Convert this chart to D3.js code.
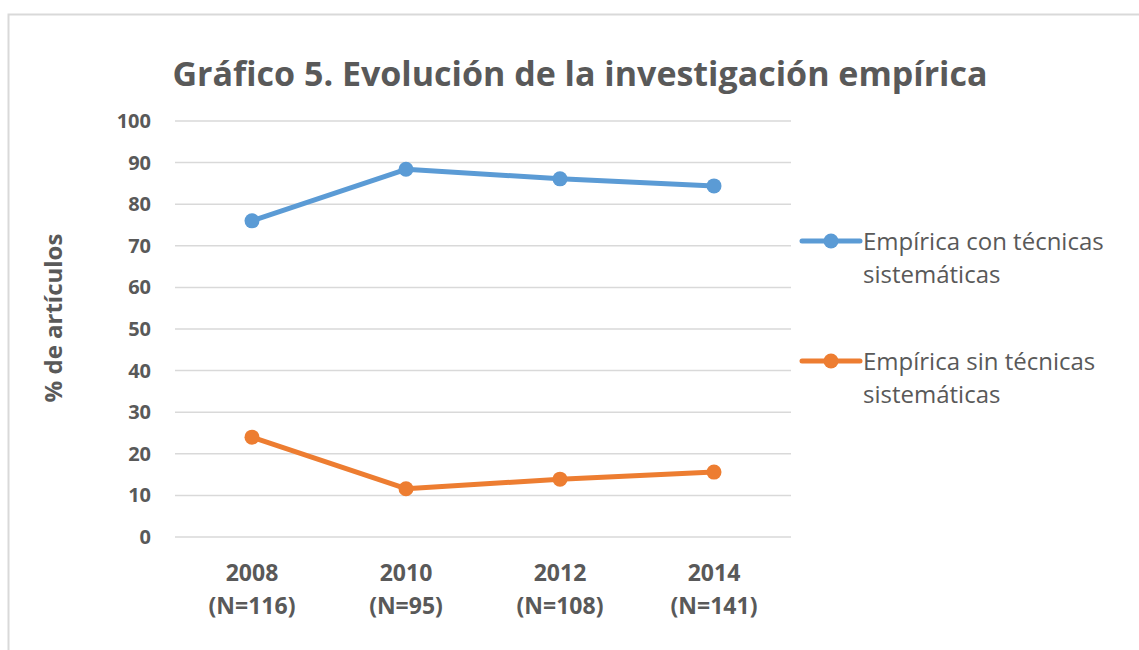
<!DOCTYPE html>
<html>
<head>
<meta charset="utf-8">
<script src="https://cdn.jsdelivr.net/npm/d3@7"></script>
<style>
  body { margin: 0; background: #fff; }
  svg { display: block; font-family: "Open Sans", "Noto Sans", sans-serif; }
</style>
</head>
<body>
<svg class="chartSVG" width="1139" height="650"></svg>
<script>
// datos
const years = ["2008", "2010", "2012", "2014"]
const sampleN = ["(N=116)", "(N=95)", "(N=108)", "(N=141)"]
const conTecnicas = [76.0, 88.4, 86.1, 84.4]
const sinTecnicas = [24.0, 11.6, 13.9, 15.6]
const yTicks = [0, 10, 20, 30, 40, 50, 60, 70, 80, 90, 100]
const seriesNames = [["Empírica con técnicas", "sistemáticas"], ["Empírica sin técnicas", "sistemáticas"]]
const seriesColors = ["#5B9BD5", "#ED7D31"]

const svg = d3.select(".chartSVG")
const textColor = "#595959"
const plot = { left: 175, right: 791, top: 121, bottom: 537 }

// marco del gráfico
svg.append("path")
  .attr("d", "M8.5,650 L8.5,14.5 L1139,14.5")
  .attr("fill", "none")
  .attr("stroke", "#d9d9d9")
  .attr("stroke-width", 2)

svg.append("text")
  .attr("x", 580)
  .attr("y", 86)
  .attr("text-anchor", "middle")
  .attr("font-size", 34)
  .attr("font-weight", "bold")
  .attr("fill", textColor)
  .attr("textLength", 815)
  .attr("lengthAdjust", "spacingAndGlyphs")
  .text("Gráfico 5. Evolución de la investigación empírica")

const x = d3.scaleBand()
  .domain(years)
  .range([plot.left, plot.right])

const y = d3.scaleLinear()
  .domain([0, 100])
  .range([plot.bottom, plot.top])

// líneas de cuadrícula
svg.append("g")
  .selectAll("line")
  .data(yTicks)
  .join("line")
  .attr("x1", plot.left)
  .attr("x2", plot.right)
  .attr("y1", d => y(d))
  .attr("y2", d => y(d))
  .attr("stroke", "#d9d9d9")
  .attr("stroke-width", 1.5)

// eje y
const yAxis = svg.append("g")
  .attr("transform", `translate(${plot.left - 14},0)`)
  .call(d3.axisLeft(y).tickValues(yTicks).tickSize(0).tickPadding(10))
yAxis.select(".domain").remove()
yAxis.selectAll("text")
  .attr("font-size", 20)
  .attr("font-weight", "bold")
  .attr("fill", textColor)
  .attr("font-family", "Open Sans, sans-serif")

svg.append("text")
  .attr("transform", "translate(62,318) rotate(-90)")
  .attr("text-anchor", "middle")
  .attr("font-size", 24)
  .attr("font-weight", "bold")
  .attr("fill", textColor)
  .text("% de artículos")

// eje x (dos líneas)
const xLabels = svg.append("g")
  .selectAll("text")
  .data(years)
  .join("text")
  .attr("x", d => x(d) + x.bandwidth() / 2)
  .attr("text-anchor", "middle")
  .attr("font-size", 23)
  .attr("font-weight", "bold")
  .attr("fill", textColor)
xLabels.append("tspan")
  .attr("x", d => x(d) + x.bandwidth() / 2)
  .attr("y", 581)
  .text(d => d)
xLabels.append("tspan")
  .attr("x", d => x(d) + x.bandwidth() / 2)
  .attr("y", 614)
  .text((d, i) => sampleN[i])

// series
const allSeries = [conTecnicas, sinTecnicas]
const line = d3.line()
  .x((d, i) => x(years[i]) + x.bandwidth() / 2)
  .y(d => y(d))

const gSeries = svg.append("g")
  .selectAll("g")
  .data(allSeries)
  .join("g")

gSeries.append("path")
  .attr("d", d => line(d))
  .attr("fill", "none")
  .attr("stroke", (d, i) => seriesColors[i])
  .attr("stroke-width", 5)
  .attr("stroke-linejoin", "round")

gSeries.each(function (d, i) {
  d3.select(this).selectAll("circle")
    .data(d)
    .join("circle")
    .attr("cx", (v, j) => x(years[j]) + x.bandwidth() / 2)
    .attr("cy", v => y(v))
    .attr("r", 7.5)
    .attr("fill", seriesColors[i])
})

// leyenda
const legendY = [241, 361]
const legend = svg.append("g")
  .selectAll("g")
  .data(seriesNames)
  .join("g")
  .attr("transform", (d, i) => `translate(800,${legendY[i]})`)

legend.append("line")
  .attr("x1", 2)
  .attr("x2", 60)
  .attr("stroke", (d, i) => seriesColors[i])
  .attr("stroke-width", 5)
  .attr("stroke-linecap", "round")
legend.append("circle")
  .attr("cx", 31)
  .attr("r", 7.5)
  .attr("fill", (d, i) => seriesColors[i])

const legendText = legend.append("text")
  .attr("font-size", 24)
  .attr("fill", textColor)
legendText.append("tspan")
  .attr("x", 63)
  .attr("y", 9)
  .text(d => d[0])
legendText.append("tspan")
  .attr("x", 63)
  .attr("y", 42)
  .text(d => d[1])
</script>
</body>
</html>
